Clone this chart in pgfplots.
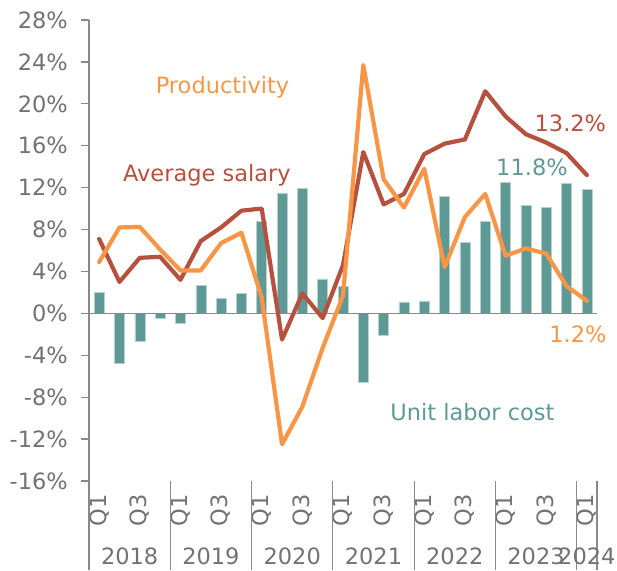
\documentclass[border=0pt]{standalone}
\usepackage{pgfplots}
\pgfplotsset{compat=1.18}
\usepackage{fontspec}
\setmainfont{DejaVu Sans}
\definecolor{tealc}{RGB}{94,153,150}
\definecolor{redc}{RGB}{181,81,62}
\definecolor{orangec}{RGB}{247,150,70}
\definecolor{txtgray}{RGB}{118,113,113}
\definecolor{axgray}{RGB}{137,137,137}
\pgfplotstableread{
idx ulc sal prod
0 2.0 7.1 4.9
1 -4.8 3.0 8.2
2 -2.7 5.3 8.25
3 -0.5 5.4 6.1
4 -0.9 3.2 4.1
5 2.7 6.9 4.1
6 1.4 8.2 6.7
7 1.9 9.8 7.7
8 8.8 10.0 1.5
9 11.5 -2.5 -12.5
10 11.9 1.9 -8.9
11 3.3 -0.45 -3.3
12 2.6 4.6 1.7
13 -6.6 15.4 23.7
14 -2.1 10.4 12.8
15 1.1 11.4 10.1
16 1.2 15.2 13.8
17 11.2 16.2 4.4
18 6.8 16.6 9.2
19 8.8 21.2 11.4
20 12.5 18.8 5.5
21 10.3 17.1 6.2
22 10.1 16.3 5.7
23 12.4 15.3 2.6
24 11.8 13.2 1.2
}\datatable
\begin{document}
\begin{tikzpicture}
\useasboundingbox (-89bp,-90bp) rectangle (528bp,481bp);
\begin{axis}[
  scale only axis,
  width=508bp, height=461bp,
  xmin=-0.5, xmax=24.5, ymin=-16, ymax=28,
  clip=false,
  axis y line*=left, axis x line*=bottom,
  x axis line style={draw=none},
  y axis line style={draw=axgray, line width=1.2bp},
  ytick={-16,-12,...,28},
  yticklabels={-16\%,-12\%,-8\%,-4\%,0\%,4\%,8\%,12\%,16\%,20\%,24\%,28\%},
  ytick style={draw=axgray, line width=1.2bp},
  tick align=outside,
  major tick length=8bp,
  xtick={0,...,24},
  xticklabels={Q1,,Q3,,Q1,,Q3,,Q1,,Q3,,Q1,,Q3,,Q1,,Q3,,Q1,,Q3,,Q1},
  xtick style={draw=none},
  tick label style={font=\fontsize{22.5bp}{27bp}\selectfont, text=txtgray},
  yticklabel style={inner sep=0pt, xshift=-13bp, anchor=east},
  xticklabel style={rotate=90, anchor=east, inner xsep=5bp, inner ysep=0pt},
]
\addplot[ybar, bar width=10bp, fill=tealc, draw=tealc!45!white, line width=0.5bp] table[x=idx, y=ulc] {\datatable};
\addplot[axgray, line width=1.2bp] coordinates {(-0.5,0) (24.5,0)};
\addplot[redc, line width=4.2bp, line join=round, line cap=round] table[x=idx, y=sal] {\datatable};
\addplot[orangec, line width=4.2bp, line join=round, line cap=round] table[x=idx, y=prod] {\datatable};
\pgfplotsinvokeforeach{-0.5,3.5,7.5,11.5,15.5,19.5,23.5,24.5}{
  \draw[axgray, line width=1.2bp] (axis cs:#1,-16) -- ([yshift=-89bp]axis cs:#1,-16);
}
\begin{scope}[every node/.style={font=\fontsize{22.5bp}{27bp}\selectfont, text=txtgray, yshift=-75bp}]
\node at (axis cs:1.5,-16) {2018};
\node at (axis cs:5.5,-16) {2019};
\node at (axis cs:9.5,-16) {2020};
\node at (axis cs:13.5,-16) {2021};
\node at (axis cs:17.5,-16) {2022};
\node at (axis cs:21.5,-16) {2023};
\node at (axis cs:24,-16) {2024};
\end{scope}
\begin{scope}[every node/.style={font=\fontsize{22.5bp}{27bp}\selectfont, anchor=base, inner sep=0pt}]
\node[text=orangec] at (axis cs:6.07,21.0) {Productivity};
\node[text=redc] at (axis cs:5.3,12.56) {Average salary};
\node[text=redc] at (axis cs:23.19,17.4) {13.2\%};
\node[text=tealc] at (axis cs:21.3,13.14) {11.8\%};
\node[text=orangec] at (axis cs:23.56,-2.8) {1.2\%};
\node[text=tealc] at (axis cs:18.37,-10.25) {Unit labor cost};
\end{scope}
\end{axis}
\end{tikzpicture}
\end{document}
